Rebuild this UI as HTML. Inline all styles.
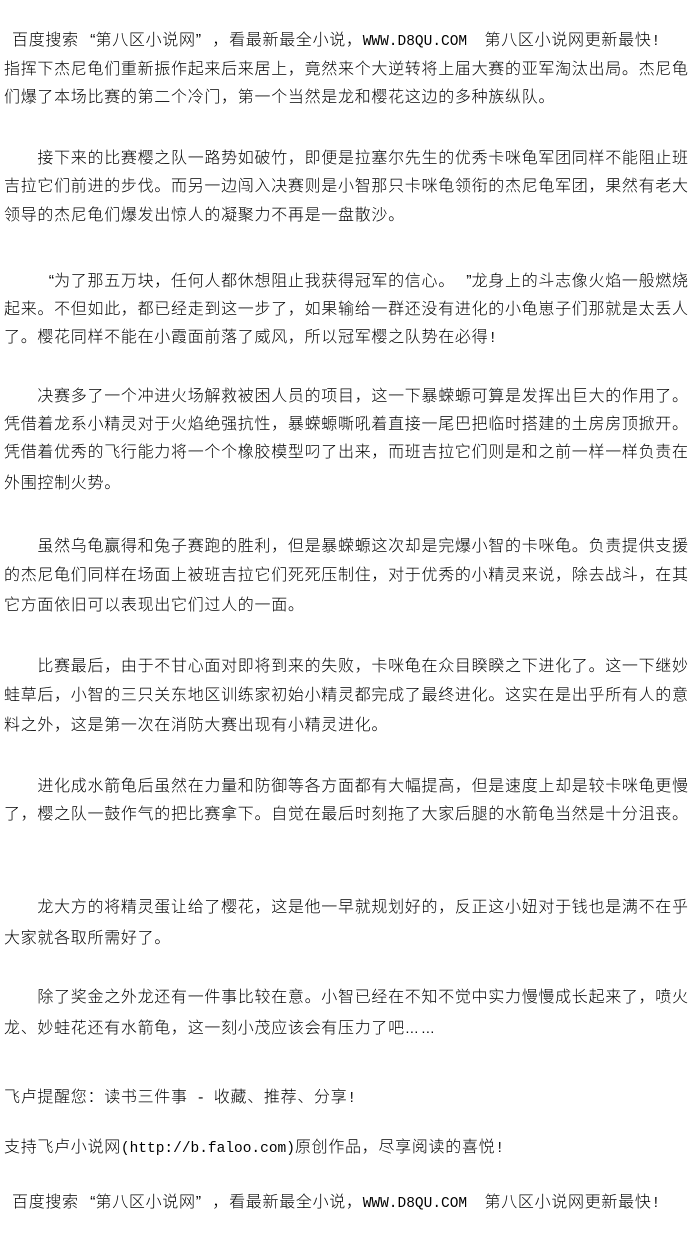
<!DOCTYPE html>
<html><head><meta charset="utf-8"><style>
html,body{margin:0;padding:0;background:#fff;}
body{width:700px;height:1250px;position:relative;overflow:hidden;}
.l{position:absolute;left:4px;white-space:pre;font-family:"Liberation Sans","Noto Sans CJK SC",sans-serif;font-size:16px;line-height:18px;letter-spacing:0.7px;color:#000;font-weight:300;}
.m{font-family:"Liberation Mono",monospace;font-size:14.5px;letter-spacing:0;}
.qo{display:inline-block;width:16.7px;text-align:right;letter-spacing:0;}
.qc{display:inline-block;width:16.7px;text-align:left;letter-spacing:0;}
.el{display:inline-block;width:33.4px;letter-spacing:2px;font-size:14px;}
</style></head><body>
<div class="l" style="top:32px;left:12px">百度搜索<span class="qo">“</span>第八区小说网<span class="qc">”</span>，看最新最全小说，<span class="m">WWW.D8QU.COM  </span>第八区小说网更新最快<span class="m">!</span></div>
<div class="l" style="top:61px">指挥下杰尼龟们重新振作起来后来居上，竟然来个大逆转将上届大赛的亚军淘汰出局。杰尼龟</div>
<div class="l" style="top:89px">们爆了本场比赛的第二个冷门，第一个当然是龙和樱花这边的多种族纵队。</div>

<div class="l" style="top:150px">　　接下来的比赛樱之队一路势如破竹，即便是拉塞尔先生的优秀卡咪龟军团同样不能阻止班</div>
<div class="l" style="top:178px">吉拉它们前进的步伐。而另一边闯入决赛则是小智那只卡咪龟领衔的杰尼龟军团，果然有老大</div>
<div class="l" style="top:207px">领导的杰尼龟们爆发出惊人的凝聚力不再是一盘散沙。</div>

<div class="l" style="top:273px">　　<span class="qo">“</span>为了那五万块，任何人都休想阻止我获得冠军的信心。<span class="qo">”</span>龙身上的斗志像火焰一般燃烧</div>
<div class="l" style="top:301px">起来。不但如此，都已经走到这一步了，如果输给一群还没有进化的小龟崽子们那就是太丢人</div>
<div class="l" style="top:329px">了。樱花同样不能在小霞面前落了威风，所以冠军樱之队势在必得<span class="m">!</span></div>

<div class="l" style="top:388px">　　决赛多了一个冲进火场解救被困人员的项目，这一下暴蝾螈可算是发挥出巨大的作用了。</div>
<div class="l" style="top:416px">凭借着龙系小精灵对于火焰绝强抗性，暴蝾螈嘶吼着直接一尾巴把临时搭建的土房房顶掀开。</div>
<div class="l" style="top:444px">凭借着优秀的飞行能力将一个个橡胶模型叼了出来，而班吉拉它们则是和之前一样一样负责在</div>
<div class="l" style="top:475px">外围控制火势。</div>

<div class="l" style="top:538px">　　虽然乌龟赢得和兔子赛跑的胜利，但是暴蝾螈这次却是完爆小智的卡咪龟。负责提供支援</div>
<div class="l" style="top:567px">的杰尼龟们同样在场面上被班吉拉它们死死压制住，对于优秀的小精灵来说，除去战斗，在其</div>
<div class="l" style="top:597px">它方面依旧可以表现出它们过人的一面。</div>

<div class="l" style="top:658px">　　比赛最后，由于不甘心面对即将到来的失败，卡咪龟在众目睽睽之下进化了。这一下继妙</div>
<div class="l" style="top:687px">蛙草后，小智的三只关东地区训练家初始小精灵都完成了最终进化。这实在是出乎所有人的意</div>
<div class="l" style="top:717px">料之外，这是第一次在消防大赛出现有小精灵进化。</div>

<div class="l" style="top:778px">　　进化成水箭龟后虽然在力量和防御等各方面都有大幅提高，但是速度上却是较卡咪龟更慢</div>
<div class="l" style="top:806px">了，樱之队一鼓作气的把比赛拿下。自觉在最后时刻拖了大家后腿的水箭龟当然是十分沮丧。</div>

<div class="l" style="top:899px">　　龙大方的将精灵蛋让给了樱花，这是他一早就规划好的，反正这小妞对于钱也是满不在乎</div>
<div class="l" style="top:930px">大家就各取所需好了。</div>

<div class="l" style="top:989px">　　除了奖金之外龙还有一件事比较在意。小智已经在不知不觉中实力慢慢成长起来了，喷火</div>
<div class="l" style="top:1019px">龙、妙蛙花还有水箭龟，这一刻小茂应该会有压力了吧<span class="el">……</span></div>

<div class="l" style="top:1089px">飞卢提醒您：读书三件事<span class="m"> - </span>收藏、推荐、分享<span class="m">!</span></div>
<div class="l" style="top:1139px">支持飞卢小说网<span class="m">(http://b.faloo.com)</span>原创作品，尽享阅读的喜悦<span class="m">!</span></div>
<div class="l" style="top:1194px;left:12px">百度搜索<span class="qo">“</span>第八区小说网<span class="qc">”</span>，看最新最全小说，<span class="m">WWW.D8QU.COM  </span>第八区小说网更新最快<span class="m">!</span></div>
</body></html>
